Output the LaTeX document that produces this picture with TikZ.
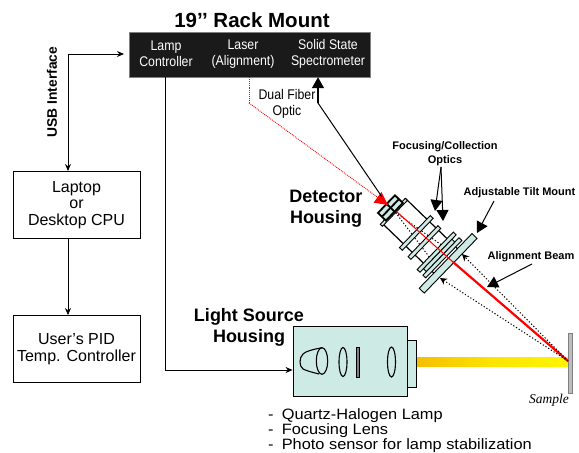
\documentclass[tikz,border=0pt]{standalone}
\usepackage{fontspec}
\setmainfont{Liberation Sans}
\newfontfamily\samplefont{Liberation Serif}
\usetikzlibrary{arrows.meta}
\definecolor{opticteal}{RGB}{205, 235, 228}
\definecolor{rackblack}{RGB}{26, 26, 26}
\definecolor{beamgold}{RGB}{245, 190, 0}
\definecolor{beamyellow}{RGB}{255, 245, 0}
\definecolor{samplegray}{RGB}{190, 190, 190}
\tikzset{
  smallhead/.style={-{Stealth[length=7pt,width=6pt]}},
  bighead/.style={-{Triangle[length=11pt,width=12pt]}},
  dotline/.style={dash pattern=on 1.2pt off 2pt, line width=1pt},
  dothead/.style={dotline, -{Stealth[length=7pt,width=7pt]}},
  plainbox/.style={draw, line width=1pt, minimum width=127pt, minimum height=67pt, inner sep=0pt, align=center, font=\fontsize{16}{16.5}\selectfont},
  racktext/.style={white, font=\fontsize{14}{15.8}\selectfont, xscale=0.88, align=center},
  headtext/.style={font=\bfseries\fontsize{18}{21}\selectfont, align=center},
  smalltext/.style={font=\bfseries\fontsize{11}{14}\selectfont, align=center},
  plate/.style={draw, fill=opticteal, line width=0.9pt},
  lens/.style={draw, line width=1.1pt}
}
\begin{document}
\begin{tikzpicture}[x=1pt, y=-1pt]
    \useasboundingbox (0,0) rectangle (579,453);

    %% rack and the two boxes on the left
    \node[draw=gray, fill=rackblack, minimum width=241pt, minimum height=45pt, inner sep=0pt] (rack) at (249.5,54.5) {};
    \node[headtext, font=\bfseries\fontsize{20.5}{24}\selectfont] (racktitle) at (252,20) {19’’ Rack Mount};
    \node[racktext] (lampctl) at (166,54) {Lamp\\Controller};
    \node[racktext] (laser) at (243,54) {Laser\\(Alignment)};
    \node[racktext] (spectro) at (328,54) {Solid State\\Spectrometer};
    \node[plainbox] (laptop) at (76.5,205) {Laptop\\or\\Desktop CPU};
    \node[plainbox] (pid) at (76.5,349) {User’s PID\\Temp. Controller};
    \node[rotate=90, font=\fontsize{13.8}{15}\selectfont\bfseries] (usb) at (52,92) {USB Interface};

    %% wiring
    \coordinate (usbcorner) at (68,54);
    \coordinate (rackin) at (124,54);
    \coordinate (lampout) at (165.5,77);
    \coordinate (lampbend) at (165.5,370);
    \draw[smallhead, line width=1pt] (usbcorner) -- (rackin);
    \draw[smallhead, line width=1pt] (usbcorner) -- (usbcorner |- laptop.north);
    \draw[smallhead, line width=0.6pt] (laptop.south -| usbcorner) -- (pid.north -| usbcorner);

    %% light source housing
    \node[draw, fill=opticteal, line width=0.9pt, minimum width=114pt, minimum height=70pt, inner sep=0pt] (lighthousing) at (350,361) {};
    \draw[plate] (407,340) rectangle (416,387);
    \draw[line width=1.6pt] (416.5,340) -- (416.5,387);
    \draw[smallhead, line width=1pt] (lampout) -- (lampbend) -- (lighthousing.west |- lampbend);

    %% lamp, lens, photo sensor, lens
    \draw[lens] (322,347.7) .. controls (313,349.5) and (306,351) .. (303,354) .. controls (299,358) and (299,366) .. (303,369) .. controls (307,371) and (313,372.5) .. (319,374);
    \draw[lens] (322,361) ellipse (5.7pt and 13.3pt);
    \draw[lens] (343,362) ellipse (4pt and 14.5pt);
    \draw[fill=gray, line width=0.4pt] (356.5,347) rectangle (359.5,377);
    \draw[lens] (391.5,362) ellipse (4pt and 15pt);

    %% yellow beam and sample
    \shade[left color=beamgold, right color=beamyellow, middle color=beamyellow!70!beamgold] (417,357) rectangle (568,366);
    \draw[draw=gray, fill=samplegray, line width=0.6pt] (568,333) rectangle (572,393);
    \coordinate (samplespot) at (568,361);
    \node[font=\samplefont\itshape\fontsize{13.5}{15}\selectfont] (sample) at (549,400) {Sample};

    %% detector housing, drawn along its own axis
    \begin{scope}[shift={(406,199)}, rotate=-44]
      \draw[fill=white, line width=1.2pt] (0,0) rectangle (73,34);
      %% dots of the returning light inside the housing
      \foreach \v in {8,26} \draw[dotline] (2,17) -- (60,\v);
      \draw[plate] (-1,0) rectangle (2,36);
      \draw[plate, line width=1.8pt] (-10.5,5) rectangle (0.5,29.5);
      \draw[line width=1.8pt] (-5,5) -- (-5,29.5);
      \draw[line width=1.8pt] (-10.5,17) -- (0.5,17);
      \foreach \u/\a/\b in {29/-5/39.5, 41.5/-3/40, 57/-9/43, 65/-9/43} {
        \draw[plate] (\u,\a) rectangle ++(4,\b-\a);
      }
      \draw[plate] (61,-3) rectangle (65,38);
      \draw[plate] (71.5,-21) rectangle (78.5,55);
    \end{scope}

    %% beams
    \coordinate (beamstart) at (397,212);
    \coordinate (beamthick) at (453,262);
    \draw[red, line width=1pt] (beamstart) -- (beamthick);
    \draw[red, line width=2.2pt] (beamthick) -- (samplespot);
    \draw[dothead] (samplespot) -- (462,254);
    \draw[dothead] (samplespot) -- (440,278);

    %% fibers
    \coordinate (fiberbend) at (318,103);
    \coordinate (laserout) at (249,77);
    \coordinate (laserbend) at (249,103);
    \draw[red, densely dotted, line width=0.9pt] (laserout) -- (laserbend);
    \draw[red, densely dotted, line width=0.9pt, -{Triangle[length=13pt,width=13pt]}] (laserbend) -- (388,205);
    \draw[line width=1pt] (382,197) -- (fiberbend);
    \draw[bighead, line width=1.3pt] (fiberbend) -- (fiberbend |- rack.south);
    \node[racktext, black] (fiberlabel) at (287,104) {Dual Fiber\\Optic};

    %% labels and their arrows
    \node[headtext] (detlabel) at (326,209) {Detector\\Housing};
    \node[headtext] (lightlabel) at (249,327.5) {Light Source\\Housing};
    \node[smalltext] (opticslabel) at (445,154) {Focusing/Collection\\Optics};
    \node[smalltext] (tiltlabel) at (519.5,193) {Adjustable Tilt Mount};
    \node[smalltext] (beamlabel) at (531,257) {Alignment Beam};
    \coordinate (opticsend) at (441,167);
    \draw[bighead, line width=1pt] (opticsend) -- (435,211);
    \draw[bighead, line width=1pt] (opticsend) -- (443,221);
    \draw[bighead, line width=1pt] (494,201) -- (477,233);
    \draw[bighead, line width=1pt] (532,264) -- (487,287);

    %% lamp contents
    \node[anchor=north west, align=left, inner sep=0pt, xscale=1.09, font=\fontsize{15}{15}\selectfont] (contents) at (268,408)
      {-\hspace{7.5pt}Quartz-Halogen Lamp\\-\hspace{7.5pt}Focusing Lens\\-\hspace{7.5pt}Photo sensor for lamp stabilization};
  \end{tikzpicture}
\end{document}
